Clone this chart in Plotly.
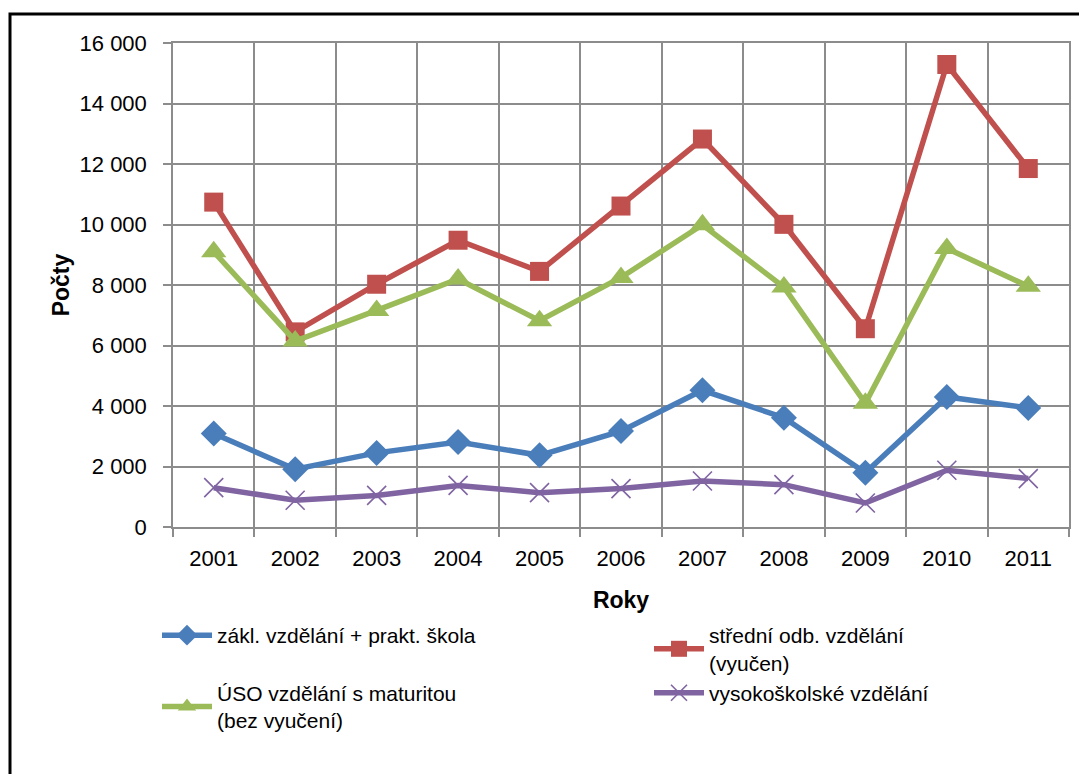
import plotly.graph_objects as go

years = ["2001", "2002", "2003", "2004", "2005", "2006", "2007", "2008", "2009", "2010", "2011"]
zakl = [3090, 1910, 2450, 2810, 2370, 3170, 4520, 3615, 1790, 4300, 3935]
stredni = [10740, 6450, 8025, 9480, 8450, 10610, 12825, 10005, 6555, 15290, 11850]
uso = [9100, 6150, 7160, 8200, 6820, 8250, 9990, 7930, 4090, 9210, 7960]
vs = [1300, 885, 1045, 1375, 1135, 1270, 1520, 1400, 795, 1875, 1600]

names = ["zákl. vzdělání + prakt. škola", "střední odb. vzdělání<br>(vyučen)",
         "ÚSO vzdělání s maturitou<br>(bez vyučení)", "vysokoškolské vzdělání"]
colors = ["#4A7EBB", "#C0504D", "#9BBB59", "#8064A2"]
symbols = ["diamond", "square", "triangle-up", "x-thin"]
sizes = [20, 19, 22, 19]
series = [zakl, stredni, uso, vs]

FONT = "Liberation Sans, Arial, sans-serif"

fig = go.Figure()
for name, col, sym, sz, vals in zip(names, colors, symbols, sizes, series):
    marker = dict(symbol=sym, size=sz, color=col)
    if sym == "x-thin":
        marker = dict(symbol=sym, size=sz, color=col, line=dict(color=col, width=1.6))
    fig.add_trace(go.Scatter(x=years, y=vals, name=name, mode="lines+markers",
                             line=dict(color=col, width=5.5), marker=marker))

# page body has an 8px margin; figure coordinates = screen - 8
OFF = 8
W, H = 1087 - OFF, 774 - OFF
L, R, T, B = 173 - OFF, 1069 - OFF, 43 - OFF, 527 - OFF

def px2paper_x(px):
    return (px - OFF - L) / (R - L)

def px2paper_y(py):
    return (B - (py - OFF)) / (B - T)

fig.update_layout(
    width=W, height=H,
    margin=dict(l=L, r=W - R, t=T, b=H - B, autoexpand=False),
    paper_bgcolor="white", plot_bgcolor="white",
    font=dict(family=FONT, size=21, color="black"),
    separators=", ",
    showlegend=True,
    legend=dict(orientation="h", x=px2paper_x(157), y=px2paper_y(615), xanchor="left", yanchor="top",
                entrywidth=427, entrywidthmode="pixels", itemwidth=50,
                font=dict(family=FONT, size=21, color="black"), tracegroupgap=0),
    xaxis=dict(type="category", range=[-0.5, len(years) - 0.5], autorange=False,
               tickson="boundaries", showgrid=True, gridcolor="#8C8C8C", gridwidth=1.5,
               ticks="outside", ticklen=8, tickcolor="#8C8C8C", tickwidth=1.5,
               showline=True, linecolor="#8C8C8C", linewidth=1.5, mirror=True,
               ticklabelstandoff=11,
               title=dict(text="<b>Roky</b>", font=dict(family=FONT, size=23), standoff=22),
               tickfont=dict(family=FONT, size=22)),
    yaxis=dict(range=[0, 16000], dtick=2000, tickformat=",d", showgrid=True, gridcolor="#8C8C8C", gridwidth=1.5,
               ticks="outside", ticklen=8, tickcolor="#8C8C8C", tickwidth=1.5,
               showline=True, linecolor="#8C8C8C", linewidth=1.5, mirror=True, zeroline=False,
               ticklabelstandoff=12,
               title=dict(text="<b>Počty</b>", font=dict(family=FONT, size=23), standoff=4),
               tickfont=dict(family=FONT, size=22)),
    shapes=[dict(type="rect", xref="paper", yref="paper",
                 x0=px2paper_x(10), x1=px2paper_x(1200), y0=px2paper_y(900), y1=px2paper_y(14),
                 line=dict(color="black", width=3), fillcolor="rgba(0,0,0,0)", layer="below")],
)

fig.write_html("out.html")
